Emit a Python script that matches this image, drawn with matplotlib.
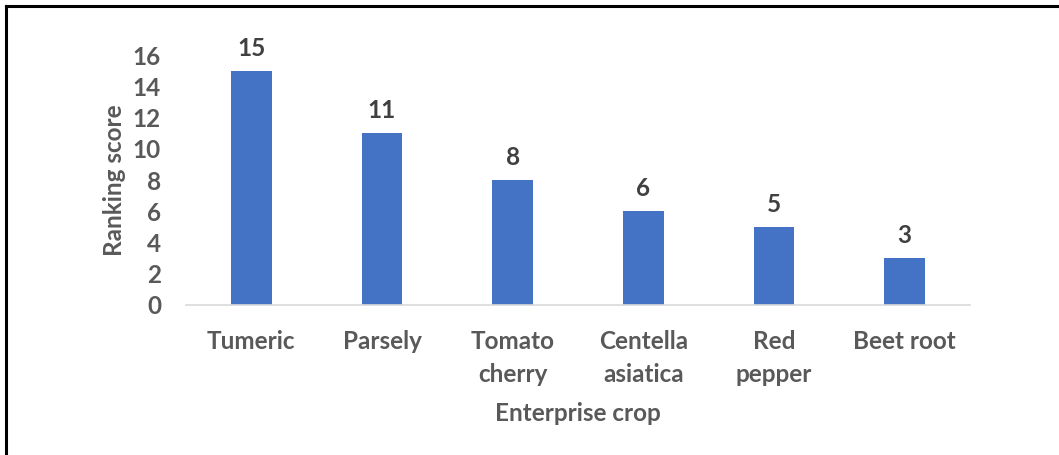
import matplotlib.pyplot as plt
from matplotlib.lines import Line2D

crops = ['Tumeric', 'Parsely', 'Tomato\ncherry', 'Centella\nasiatica', 'Red\npepper', 'Beet root']
scores = [15, 11, 8, 6, 5, 3]
yticks = [0, 2, 4, 6, 8, 10, 12, 14, 16]

plt.rcParams['font.family'] = ['Lato', 'DejaVu Sans']
plt.rcParams['font.weight'] = 'bold'
grey = '#595959'
fs = 17.5

fig = plt.figure(figsize=(10.59, 4.55), dpi=100)
ax = fig.add_axes([0.1756, 0.3297, 0.916 - 0.1756, 0.879 - 0.3297])

x = range(len(crops))
bars = ax.bar(x, scores, width=0.31, color='#4472C4')
ax.bar_label(bars, padding=8, fontsize=fs, fontweight='bold', color='#404040')

ax.set_xlim(-0.5, len(crops) - 0.5)
ax.set_ylim(0, 16)
ax.set_yticks(yticks)
ax.set_xticks(list(x))
ax.set_xticklabels(crops, linespacing=1.55)
ax.tick_params(axis='both', length=0, labelsize=fs, labelcolor=grey)
ax.tick_params(axis='x', pad=18)
ax.tick_params(axis='y', pad=18)

for s in ['top', 'right', 'left']:
    ax.spines[s].set_visible(False)
ax.spines['bottom'].set_color('#D9D9D9')
ax.spines['bottom'].set_linewidth(1.2)

ax.set_ylabel('Ranking score', fontsize=fs, fontweight='bold', color=grey, labelpad=5)
ax.set_xlabel('Enterprise crop', fontsize=fs, fontweight='bold', color=grey, labelpad=11)

# frame lines (top and left only)
fig.add_artist(Line2D([0.0055, 1.0], [0.9868, 0.9868], transform=fig.transFigure, color='black', lw=2.2))
fig.add_artist(Line2D([0.0057, 0.0057], [0.0, 0.9868], transform=fig.transFigure, color='black', lw=2.2))

fig.savefig('out.png', dpi=100)
